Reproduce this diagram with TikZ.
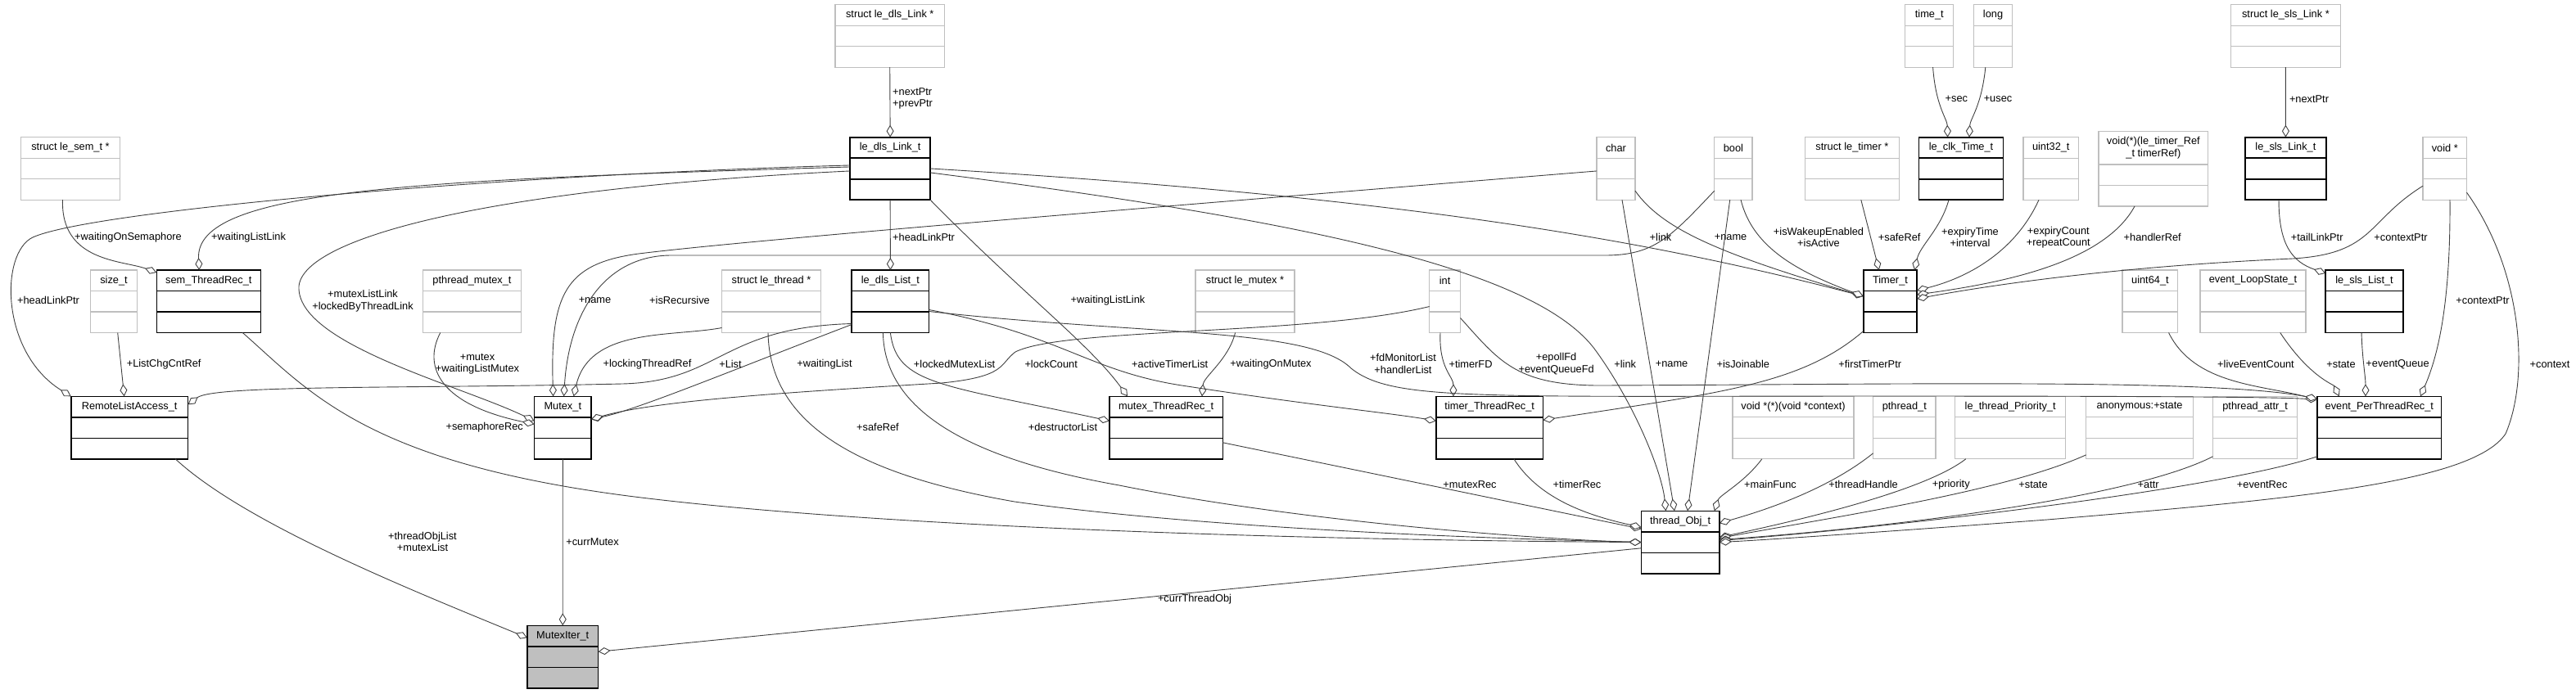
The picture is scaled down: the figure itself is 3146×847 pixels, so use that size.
\documentclass[tikz,border=0pt]{standalone}
\usepackage{fontspec}
\setmainfont{Liberation Sans}
\usetikzlibrary{arrows.meta, calc}
\definecolor{edgegray}{RGB}{64,64,64}
\definecolor{boxgray}{RGB}{191,191,191}

% class box: name, style, x, y, width, title height, title
\newcommand{\umlbox}[7]{%
  \pgfmathsetmacro{\umlh}{#6+51}%
  \node[#2, anchor=north west, minimum width=#5pt, minimum height=\umlh pt] (#1) at (#3,#4) {};
  \node[boxtitle] (#1-t) at ($(#1.north west)+(#5/2,#6/2)$) {#7};
  \draw[#2div] ($(#1.north west)+(0,#6)$) -- ++(#5,0);
  \draw[#2div] ($(#1.north west)+(0,#6+25.5)$) -- ++(#5,0);
}

\begin{document}
\begin{tikzpicture}[x=1pt, y=-1pt,
    every node/.style={font=\fontsize{12.8}{14.5}\selectfont},
    ext/.style={draw=boxgray, line width=1.3pt, fill=white, inner sep=0, outer sep=0},
    extdiv/.style={draw=boxgray, line width=1.3pt},
    cls/.style={draw=black, line width=1.6pt, fill=white, inner sep=0, outer sep=0},
    clsdiv/.style={draw=black, line width=1.6pt},
    iter/.style={draw=black, line width=1.6pt, fill=boxgray, inner sep=0, outer sep=0},
    iterdiv/.style={draw=black, line width=1.6pt},
    boxtitle/.style={align=center, inner sep=0},
    memb/.style={draw=edgegray, line width=0.9pt, -{Diamond[fill=white, length=15pt, width=9pt]}},
    lbl/.style={align=center, inner sep=0}]
    \useasboundingbox (0,0) rectangle (3146,847);

    % Member types (not documented)
    \umlbox{sem}{ext}{25.5}{167.7}{121}{25.5}{struct le\_sem\_t *}
    \umlbox{dlsptr}{ext}{1020}{5.7}{133.5}{25.5}{struct le\_dls\_Link *}
    \umlbox{chr}{ext}{1950}{167.7}{47}{25.5}{char}
    \umlbox{bool}{ext}{2093.7}{167.7}{46.4}{25.5}{bool}
    \umlbox{timerptr}{ext}{2204.4}{167.7}{115}{25.5}{struct le\_timer *}
    \umlbox{timet}{ext}{2326.8}{5.7}{59}{25.5}{time\_t}
    \umlbox{long}{ext}{2410.4}{5.7}{47.3}{25.5}{long}
    \umlbox{uint32}{ext}{2471}{167.7}{67.5}{25.5}{uint32\_t}
    \umlbox{handler}{ext}{2563}{160.7}{133.7}{40.3}{void(*)(le\_timer\_Ref\\\_t timerRef)}
    \umlbox{slsptr}{ext}{2724.6}{5.7}{133.6}{25.5}{struct le\_sls\_Link *}
    \umlbox{voidp}{ext}{2959}{167.7}{53.5}{25.5}{void *}
    \umlbox{size}{ext}{110.7}{330}{56.6}{25.5}{size\_t}
    \umlbox{pmutex}{ext}{516.8}{330}{119.4}{25.5}{pthread\_mutex\_t}
    \umlbox{threadptr}{ext}{881.5}{330}{121}{25.5}{struct le\_thread *}
    \umlbox{mutexptr}{ext}{1460}{330}{121}{25.5}{struct le\_mutex *}
    \umlbox{int}{ext}{1745.7}{330}{37.8}{25.5}{int}
    \umlbox{uint64}{ext}{2592}{330}{67.8}{25.5}{uint64\_t}
    \umlbox{loopstate}{ext}{2687}{330}{129}{25.5}{event\_LoopState\_t}
    \umlbox{mainfunc}{ext}{2116}{484.3}{148}{25.5}{void *(*)(void *context)}
    \umlbox{pthread}{ext}{2287.6}{484.3}{76.4}{25.5}{pthread\_t}
    \umlbox{prio}{ext}{2387.8}{484.3}{134.7}{25.5}{le\_thread\_Priority\_t}
    \umlbox{anon}{ext}{2547.7}{484.3}{130.6}{25.5}{anonymous:+state}
    \umlbox{pattr}{ext}{2702.5}{484.3}{103.3}{25.5}{pthread\_attr\_t}

    % Documented structs
    \umlbox{dlslink}{cls}{1038.2}{167.7}{97.9}{25.5}{le\_dls\_Link\_t}
    \umlbox{clktime}{cls}{2343.6}{167.7}{102.8}{25.5}{le\_clk\_Time\_t}
    \umlbox{slslink}{cls}{2742}{167.7}{98.8}{25.5}{le\_sls\_Link\_t}
    \umlbox{semrec}{cls}{191.3}{330}{127.1}{25.5}{sem\_ThreadRec\_t}
    \umlbox{dlslist}{cls}{1040.2}{330}{94.4}{25.5}{le\_dls\_List\_t}
    \umlbox{timer}{cls}{2275.8}{330}{65.3}{25.5}{Timer\_t}
    \umlbox{slslist}{cls}{2840.2}{330}{94.7}{25.5}{le\_sls\_List\_t}
    \umlbox{remote}{cls}{86.7}{484.3}{142.9}{25.5}{RemoteListAccess\_t}
    \umlbox{mutex}{cls}{652.6}{484.3}{69.4}{25.5}{Mutex\_t}
    \umlbox{mutexrec}{cls}{1355}{484.3}{138.3}{25.5}{mutex\_ThreadRec\_t}
    \umlbox{timerrec}{cls}{1753.9}{484.3}{130.6}{25.5}{timer\_ThreadRec\_t}
    \umlbox{evrec}{cls}{2830}{484.3}{151.6}{25.5}{event\_PerThreadRec\_t}
    \umlbox{thread}{cls}{2004.4}{624.3}{95.4}{25.5}{thread\_Obj\_t}
    \umlbox{iter}{iter}{643.9}{764.3}{86.7}{25.5}{MutexIter\_t}

    % Members of le_dls_Link_t, sem_ThreadRec_t, RemoteListAccess_t
    \draw[memb] (dlsptr.south) -- (dlslink.north);
    \draw[memb] ($(sem.south west)+(51,0)$) .. controls (74,320) and (150,318) .. ($(semrec.north west)+(0,3)$);
    \draw[memb] ($(dlslink.west)+(0,-2)$) .. controls (500,220) and (238,232) .. ($(semrec.north west)+(52,0)$);
    \draw[memb] ($(dlslink.west)+(0,-4)$) .. controls (600,214) and (110,258) .. (40,290) .. controls (0,309) and (0,430) .. (remote.north west);
    \draw[memb] ($(size.south west)+(33,0)$) -- ($(remote.north west)+(65,0)$);
    \draw[memb] ($(dlslist.south west)+(0,-11)$) .. controls (880,400) and (880,466) .. (760,469) .. controls (500,475) and (262,470) .. ($(remote.north east)+(0,10)$);

    % Members of Mutex_t
    \draw[memb] ($(dlslink.west)+(0,3)$) .. controls (600,230) and (370,290) .. (365,350) .. controls (362,420) and (560,470) .. ($(mutex.north west)+(0,30)$);
    \draw[memb] ($(pmutex.south west)+(21,0)$) .. controls (515,450) and (540,495) .. ($(mutex.north west)+(0,34)$);
    \draw[memb] ($(chr.west)+(0,3)$) .. controls (1300,262) and (900,295) .. (780,310) .. controls (690,322) and (672,360) .. ($(mutex.north west)+(23,0)$);
    \draw[memb] ($(bool.south west)+(0,-11)$) .. controls (2040,290) and (2020,312) .. (1960,312) -- (820,312) .. controls (740,312) and (695,380) .. ($(mutex.north west)+(36,0)$);
    \draw[memb] ($(threadptr.south west)+(0,-6)$) .. controls (820,412) and (720,400) .. ($(mutex.north west)+(48,0)$);
    \draw[memb] ($(dlslist.south west)+(0,-10)$) .. controls (900,450) and (780,500) .. ($(mutex.north east)+(0,28)$);
    \draw[memb] ($(int.south west)+(0,-32)$) .. controls (1600,410) and (1300,400) .. (1240,430) .. controls (1220,445) and (1230,460) .. (1150,468) .. controls (950,480) and (800,490) .. ($(mutex.north east)+(0,28)$);

    % Members of le_dls_List_t, mutex_ThreadRec_t, timer_ThreadRec_t
    \draw[memb] (dlslink.south) -- (dlslist.north);
    \draw[memb] (dlslist.south) .. controls (1095,470) and (1150,470) .. ($(mutexrec.north west)+(0,30)$);
    \draw[memb] ($(mutexptr.south west)+(48.6,0)$) .. controls (1500,440) and (1470,460) .. ($(mutexrec.north west)+(113,0)$);
    \draw[memb] (dlslink.south east) .. controls (1250,360) and (1330,420) .. ($(mutexrec.north west)+(22,0)$);
    \draw[memb] ($(dlslist.south east)+(0,-28)$) .. controls (1300,410) and (1330,455) .. (1450,472) .. controls (1600,495) and (1700,505) .. ($(timerrec.north west)+(0,30)$);
    \draw[memb] ($(int.south west)+(13.3,0)$) .. controls (1757,450) and (1775,460) .. ($(timerrec.north west)+(21,0)$);
    \draw[memb] ($(timer.south west)+(0,-2)$) .. controls (2200,470) and (2100,480) .. ($(timerrec.north east)+(0,29)$);

    % Members of Timer_t and le_clk_Time_t
    \draw[memb] (dlslink.east) .. controls (1700,240) and (2000,290) .. ($(timer.north west)+(0,32)$);
    \draw[memb] ($(chr.south east)+(0,-11)$) .. controls (2030,280) and (2100,310) .. ($(timer.north west)+(0,32)$);
    \draw[memb] ($(bool.south west)+(32.3,0)$) .. controls (2140,300) and (2190,330) .. ($(timer.north west)+(0,32)$);
    \draw[memb] ($(timerptr.south west)+(68.4,0)$) -- ($(timer.north west)+(19,0)$);
    \draw[memb] ($(clktime.south west)+(36.4,0)$) .. controls (2370,280) and (2345,300) .. ($(timer.north east)+(-3,0)$);
    \draw[memb] ($(timet.south west)+(33.8,0)$) .. controls (2364,130) and (2378,145) .. ($(clktime.north west)+(35,0)$);
    \draw[memb] ($(long.south west)+(14.4,0)$) .. controls (2420,130) and (2406,145) .. ($(clktime.north west)+(61.4,0)$);
    \draw[memb] ($(uint32.south west)+(19,0)$) .. controls (2460,310) and (2400,340) .. ($(timer.north east)+(0,25)$);
    \draw[memb] ($(handler.south west)+(44,0)$) .. controls (2570,320) and (2450,345) .. ($(timer.north east)+(0,30)$);
    \draw[memb] ($(voidp.south west)+(0,-17)$) .. controls (2890,270) and (2900,310) .. (2800,316) .. controls (2600,325) and (2450,345) .. ($(timer.north east)+(0,35)$);

    % Members of le_sls_Link_t, le_sls_List_t, event_PerThreadRec_t
    \draw[memb] (slsptr.south) -- (slslink.north);
    \draw[memb] ($(slslink.south west)+(41,0)$) .. controls (2783,300) and (2800,320) .. ($(slslist.north west)+(0,4)$);
    \draw[memb] ($(voidp.south west)+(33,0)$) .. controls (2993,380) and (2975,440) .. ($(evrec.north west)+(126,0)$);
    \draw[memb] ($(slslist.south west)+(43.8,0)$) .. controls (2885,440) and (2889,460) .. ($(evrec.north west)+(59,0)$);
    \draw[memb] ($(loopstate.south west)+(97.7,0)$) .. controls (2820,460) and (2850,470) .. ($(evrec.north west)+(26.7,0)$);
    \draw[memb] ($(uint64.south west)+(56.5,0)$) .. controls (2680,470) and (2760,470) .. ($(evrec.north west)+(0,4)$);
    \draw[memb] ($(dlslist.south east)+(0,-26)$) .. controls (1400,410) and (1600,400) .. (1650,450) .. controls (1700,490) and (1800,484) .. (2300,484) .. controls (2600,484) and (2780,485) .. ($(evrec.north west)+(0,4)$);
    \draw[memb] ($(int.south east)+(0,-18)$) .. controls (1830,440) and (1850,470) .. (1950,471) .. controls (2300,470) and (2700,462) .. ($(evrec.north west)+(0,3)$);

    % Members of thread_Obj_t
    \draw[memb] ($(dlslist.south)+(-9,0)$) .. controls (1080,500) and (1180,560) .. (1367,593) .. controls (1600,640) and (1900,660) .. (thread.west);
    \draw[memb] ($(threadptr.south west)+(56.5,0)$) .. controls (940,520) and (1050,580) .. (1239,613) .. controls (1500,650) and (1900,660) .. (thread.west);
    \draw[memb] ($(semrec.south west)+(105,0)$) .. controls (380,480) and (450,570) .. (800,610) .. controls (1100,645) and (1600,660) .. (thread.west);
    \draw[memb] ($(mutexrec.south east)+(0,-20)$) -- ($(thread.north west)+(0,22)$);
    \draw[memb] ($(timerrec.south west)+(95,0)$) .. controls (1880,610) and (1940,630) .. ($(thread.north west)+(0,20)$);
    \draw[memb] ($(dlslink.east)+(0,5)$) .. controls (1600,270) and (1880,330) .. (1950,430) .. controls (2000,500) and (2030,580) .. ($(thread.north west)+(30,0)$);
    \draw[memb] ($(chr.south west)+(31,0)$) -- ($(thread.north west)+(40.6,0)$);
    \draw[memb] ($(bool.south west)+(19,0)$) -- ($(thread.north west)+(56.6,0)$);
    \draw[memb] ($(mainfunc.south west)+(35.8,0)$) .. controls (2130,590) and (2100,605) .. ($(thread.north east)+(-6,0)$);
    \draw[memb] ($(pthread.south west)+(0,-7)$) .. controls (2230,600) and (2150,625) .. ($(thread.north east)+(0,15)$);
    \draw[memb] ($(prio.south west)+(13,0)$) .. controls (2350,600) and (2200,635) .. ($(thread.east)+(0,-6)$);
    \draw[memb] ($(anon.south west)+(0,-5)$) .. controls (2450,600) and (2250,630) .. ($(thread.east)+(0,-5)$);
    \draw[memb] ($(pattr.south west)+(0,-3)$) .. controls (2600,610) and (2300,645) .. ($(thread.east)+(0,-3)$);
    \draw[memb] ($(evrec.south west)+(0,-3)$) .. controls (2700,600) and (2300,645) .. ($(thread.east)+(0,-2)$);
    \draw[memb] ($(voidp.south east)+(0,-9)$) .. controls (3080,330) and (3090,460) .. (3060,530) .. controls (3020,590) and (2800,610) .. (2500,635) .. controls (2300,650) and (2150,660) .. (thread.east);

    % Members of MutexIter_t
    \draw[memb] (mutex.south) -- (iter.north);
    \draw[memb] ($(remote.south west)+(127.5,0)$) .. controls (300,640) and (500,720) .. ($(iter.north west)+(0,15)$);
    \draw[memb] ($(thread.south west)+(0,-31)$) -- ($(iter.north east)+(0,32)$);

    % Edge labels
    \node[lbl, anchor=west, align=left] (l-nextptr) at (1090,120.5) {+nextPtr\\+prevPtr};
    \node[lbl, anchor=west] (l-waitsem) at (91,290) {+waitingOnSemaphore};
    \node[lbl, anchor=west] (l-waitlink1) at (258,290) {+waitingListLink};
    \node[lbl] (l-headlink1) at (59,367) {+headLinkPtr};
    \node[lbl, anchor=west] (l-chgcnt) at (154.6,445) {+ListChgCntRef};
    \node[lbl] (l-mutexlink) at (443,367.5) {+mutexListLink\\+lockedByThreadLink};
    \node[lbl] (l-mutex) at (583,444.5) {+mutex\\+waitingListMutex};
    \node[lbl, anchor=east] (l-semrec) at (639,521.7) {+semaphoreRec};
    \node[lbl] (l-name1) at (726.5,367) {+name};
    \node[lbl] (l-recursive) at (830,367) {+isRecursive};
    \node[lbl] (l-locking) at (790.5,445) {+lockingThreadRef};
    \node[lbl] (l-list) at (892,445) {+List};
    \node[lbl] (l-waitlist) at (1007,445) {+waitingList};
    \node[lbl, anchor=west] (l-headlink2) at (1090,290) {+headLinkPtr};
    \node[lbl] (l-lockedlist) at (1165.6,445) {+lockedMutexList};
    \node[lbl] (l-lockcount) at (1283.7,445) {+lockCount};
    \node[lbl] (l-waitlink2) at (1353,367) {+waitingListLink};
    \node[lbl] (l-activetimer) at (1428.7,445) {+activeTimerList};
    \node[lbl] (l-waitmutex) at (1552,445) {+waitingOnMutex};
    \node[lbl] (l-saferef1) at (1072,522) {+safeRef};
    \node[lbl] (l-destructor) at (1298,522) {+destructorList};
    \node[lbl] (l-fdmon) at (1713.5,444.5) {+fdMonitorList\\+handlerList};
    \node[lbl] (l-timerfd) at (1796,445) {+timerFD};
    \node[lbl] (l-epoll) at (1900.6,444.5) {+epollFd\\+eventQueueFd};
    \node[lbl] (l-link1) at (1984.7,445) {+link};
    \node[lbl] (l-name2) at (2041.6,445) {+name};
    \node[lbl] (l-joinable) at (2128.8,445) {+isJoinable};
    \node[lbl] (l-firsttimer) at (2283.7,445) {+firstTimerPtr};
    \node[lbl] (l-link2) at (2028,290) {+link};
    \node[lbl] (l-name3) at (2113.6,290) {+name};
    \node[lbl] (l-wakeup) at (2221,290) {+isWakeupEnabled\\+isActive};
    \node[lbl] (l-saferef2) at (2319.7,290) {+safeRef};
    \node[lbl] (l-expiry) at (2406,290) {+expiryTime\\+interval};
    \node[lbl] (l-count) at (2513.8,290) {+expiryCount\\+repeatCount};
    \node[lbl] (l-handler) at (2628.7,290) {+handlerRef};
    \node[lbl] (l-sec) at (2389.4,120.7) {+sec};
    \node[lbl] (l-usec) at (2440,120.7) {+usec};
    \node[lbl] (l-nextptr2) at (2820,120.7) {+nextPtr};
    \node[lbl] (l-taillink) at (2829.7,290) {+tailLinkPtr};
    \node[lbl] (l-ctx1) at (2932,290) {+contextPtr};
    \node[lbl] (l-ctx2) at (3032,367) {+contextPtr};
    \node[lbl] (l-ctx3) at (3114,445) {+context};
    \node[lbl] (l-liveev) at (2755,445) {+liveEventCount};
    \node[lbl] (l-state1) at (2859,445) {+state};
    \node[lbl] (l-evqueue) at (2928,445) {+eventQueue};
    \node[lbl] (l-objlist) at (516,662) {+threadObjList\\+mutexList};
    \node[lbl] (l-currmutex) at (723.5,662) {+currMutex};
    \node[lbl] (l-currobj) at (1459,731.7) {+currThreadObj};
    \node[lbl] (l-mutexrec) at (1795,592) {+mutexRec};
    \node[lbl] (l-timerrec) at (1926,592) {+timerRec};
    \node[lbl] (l-mainfunc) at (2162,592) {+mainFunc};
    \node[lbl] (l-handle) at (2275.6,592) {+threadHandle};
    \node[lbl] (l-prio) at (2382.7,592) {+priority};
    \node[lbl] (l-state2) at (2483,592) {+state};
    \node[lbl] (l-attr) at (2623.7,592) {+attr};
    \node[lbl] (l-evrec) at (2762.7,592) {+eventRec};
\end{tikzpicture}
\end{document}
